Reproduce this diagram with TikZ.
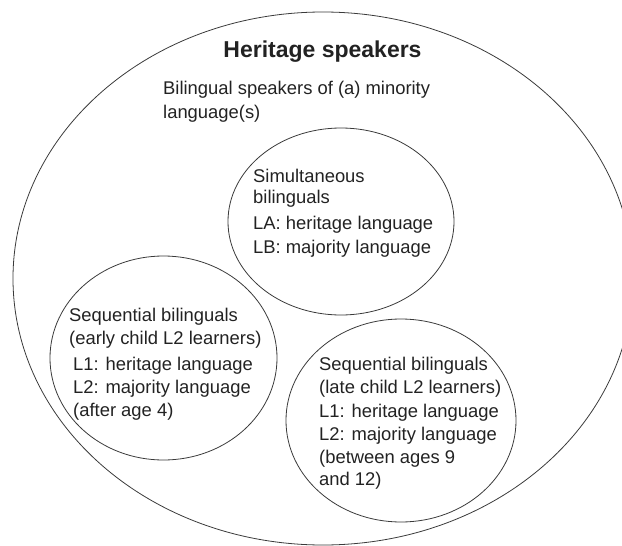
\documentclass[tikz,border=0pt]{standalone}
\usepackage{fontspec}
\setmainfont{Liberation Sans}
\usetikzlibrary{shapes.geometric}
\definecolor{txt}{HTML}{222222}
\definecolor{ln}{HTML}{3A3A3A}
\begin{document}
\begin{tikzpicture}[x=1pt,y=-1pt,
  ring/.style={ellipse,draw=ln,line width=0.8pt,inner sep=0pt},
  body/.style={anchor=base west,inner sep=0pt,text=txt,font=\fontsize{18.4}{22}\selectfont},
  title/.style={anchor=base,inner sep=0pt,text=txt,font=\fontsize{23}{26}\selectfont\bfseries}]
\useasboundingbox (0,0) rectangle (622,546);
\node[ring,minimum width=620pt,minimum height=533pt] (outer) at (323,278.5) {};
\node[ring,minimum width=226pt,minimum height=187pt] (simul) at (341,221.5) {};
\node[ring,minimum width=227pt,minimum height=204pt] (early) at (163.5,358) {};
\node[ring,minimum width=230pt,minimum height=203pt] (late) at (401,420.5) {};
% outer texts
\node[title] (t0) at (322.5,57) {Heritage speakers};
\node[body] (t1) at (163,94) {Bilingual speakers of (a) minority};
\node[body] (t2) at (163,118) {language(s)};
% simultaneous
\node[body] (s1) at (253,182) {Simultaneous};
\node[body] (s2) at (253,203) {bilinguals};
\node[body] (s3) at (253,229) {LA: heritage language};
\node[body] (s4) at (253,253) {LB: majority language};
% early
\node[body] (e1) at (69,321) {Sequential bilinguals};
\node[body] (e2) at (69,344) {(early child L2 learners)};
\node[body] (e3) at (73,370) {L1: heritage language};
\node[body] (e4) at (73,393) {L2: majority language};
\node[body] (e5) at (73,416) {(after age 4)};
% late
\node[body] (l1) at (319,370) {Sequential bilinguals};
\node[body] (l2) at (319,393) {(late child L2 learners)};
\node[body] (l3) at (319,417) {L1: heritage language};
\node[body] (l4) at (319,440) {L2: majority language};
\node[body] (l5) at (319,463) {(between ages 9};
\node[body] (l6) at (319,485) {and 12)};
\end{tikzpicture}
\end{document}
